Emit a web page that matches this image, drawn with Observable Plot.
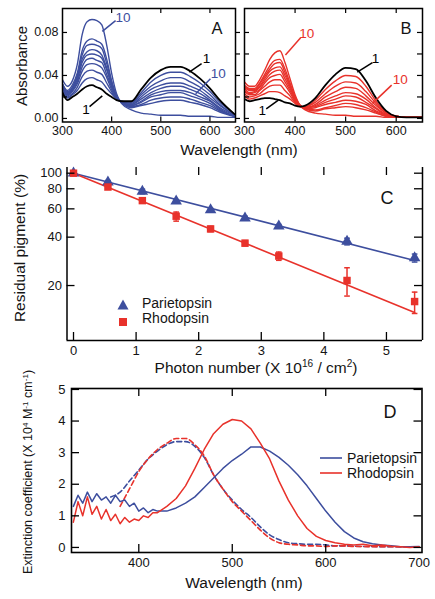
<!DOCTYPE html>
<html><head><meta charset="utf-8">
<script src="https://cdn.jsdelivr.net/npm/d3@7"></script>
<script src="https://cdn.jsdelivr.net/npm/@observablehq/plot@0.6"></script>
<style>
body{margin:0;background:#fff;}
#fig{position:relative;width:435px;height:599px;overflow:hidden;background:#fff;font-family:"Liberation Sans",Arial,sans-serif;color:#141414;}
.panel{position:absolute;left:0;}
.panel svg{background:transparent;overflow:visible;}
.t{position:absolute;white-space:nowrap;line-height:1;}
.rot{transform:translate(-50%,-50%) rotate(-90deg);}
.ctr{transform:translate(-50%,-50%);}
sup{font-size:0.65em;vertical-align:baseline;position:relative;top:-0.55em;line-height:0;}
</style></head>
<body>
<div id="fig">
  <div class="panel" id="pA" style="top:0"></div>
  <div class="panel" id="pB" style="top:0"></div>
  <div class="panel" id="pC" style="top:155px"></div>
  <div class="panel" id="pD" style="top:375px"></div>

  <div class="t rot" style="left:21px;top:66px;font-size:15px;">Absorbance</div>
  <div class="t ctr" style="left:239px;top:150px;font-size:15.5px;">Wavelength (nm)</div>
  <div class="t ctr" style="left:217px;top:28px;font-size:16.5px;">A</div>
  <div class="t ctr" style="left:406px;top:28px;font-size:16.5px;">B</div>

  <div class="t rot" style="left:20px;top:248px;font-size:15.5px;">Residual pigment (%)</div>
  <div class="t ctr" style="left:256px;top:368px;font-size:15.5px;">Photon number (X 10<sup>16</sup> / cm<sup>2</sup>)</div>
  <div class="t ctr" style="left:387px;top:198px;font-size:18px;">C</div>
  <div class="t" style="left:117px;top:297px;"><svg width="12" height="11"><polygon points="6,0.5 11.5,10.5 0.5,10.5" fill="#3d4e9e"/></svg></div>
  <div class="t" style="left:142px;top:296px;font-size:14px;">Parietopsin</div>
  <div class="t" style="left:119px;top:314px;"><svg width="9" height="9"><rect x="0" y="0" width="8" height="8" fill="#e8322b"/></svg></div>
  <div class="t" style="left:142px;top:311px;font-size:14px;">Rhodopsin</div>

  <div class="t rot" style="left:28px;top:472px;font-size:12.5px;">Extinction coefficient (X 10<sup>4</sup> M<sup>-1</sup> cm<sup>-1</sup>)</div>
  <div class="t ctr" style="left:244px;top:583px;font-size:15.5px;">Wavelength (nm)</div>
  <div class="t ctr" style="left:390px;top:412px;font-size:18px;">D</div>
  <div class="t" style="left:320px;top:451px;"><svg width="23" height="12"><line x1="0" y1="6" x2="22" y2="6" stroke="#3d4e9e" stroke-width="1.6"/></svg></div>
  <div class="t" style="left:347px;top:450.5px;font-size:14px;">Parietopsin</div>
  <div class="t" style="left:320px;top:466px;"><svg width="23" height="12"><line x1="0" y1="6" x2="22" y2="6" stroke="#e8322b" stroke-width="1.6"/></svg></div>
  <div class="t" style="left:347px;top:465.5px;font-size:14px;">Rhodopsin</div>
</div>
<script>
// ---------- Panels A and B: absorbance spectra during irradiation ----------
const wlAB = [300,310,320,330,340,350,360,370,380,390,400,410,420,440,460,480,500,520,540,560,580,600,620,650];
const parietopsinSpectra = [
  [0.024,0.017,0.020,0.023,0.027,0.030,0.031,0.029,0.027,0.023,0.020,0.017,0.016,0.016,0.027,0.038,0.045,0.048,0.048,0.044,0.037,0.028,0.017,0.004],
  [0.025,0.019,0.022,0.026,0.033,0.037,0.038,0.036,0.034,0.028,0.023,0.018,0.016,0.015,0.024,0.034,0.040,0.043,0.043,0.039,0.033,0.025,0.015,0.004],
  [0.027,0.020,0.023,0.029,0.039,0.044,0.045,0.043,0.041,0.033,0.025,0.018,0.016,0.014,0.022,0.030,0.035,0.038,0.038,0.034,0.029,0.022,0.013,0.003],
  [0.028,0.021,0.025,0.032,0.044,0.050,0.051,0.050,0.047,0.038,0.027,0.019,0.015,0.013,0.020,0.027,0.031,0.033,0.033,0.030,0.026,0.019,0.012,0.003],
  [0.029,0.022,0.026,0.034,0.048,0.055,0.056,0.054,0.052,0.041,0.029,0.020,0.015,0.013,0.018,0.024,0.028,0.030,0.030,0.027,0.023,0.017,0.010,0.003],
  [0.030,0.023,0.027,0.036,0.052,0.059,0.060,0.059,0.056,0.045,0.031,0.020,0.015,0.012,0.016,0.022,0.025,0.026,0.026,0.024,0.020,0.016,0.009,0.002],
  [0.031,0.024,0.028,0.038,0.055,0.062,0.064,0.063,0.059,0.047,0.032,0.020,0.015,0.012,0.015,0.020,0.022,0.024,0.024,0.021,0.018,0.014,0.008,0.002],
  [0.032,0.025,0.029,0.040,0.059,0.068,0.069,0.068,0.065,0.051,0.034,0.021,0.015,0.011,0.013,0.017,0.019,0.020,0.020,0.018,0.015,0.012,0.007,0.002],
  [0.032,0.026,0.031,0.042,0.063,0.072,0.074,0.072,0.069,0.055,0.035,0.021,0.015,0.010,0.012,0.014,0.016,0.017,0.017,0.015,0.013,0.010,0.006,0.002],
  [0.036,0.030,0.035,0.050,0.078,0.090,0.092,0.091,0.087,0.068,0.042,0.023,0.014,0.008,0.005,0.004,0.003,0.003,0.003,0.002,0.002,0.002,0.001,0.001]
];
const rhodopsinSpectra = [
  [0.018,0.016,0.017,0.018,0.019,0.019,0.018,0.017,0.015,0.014,0.012,0.011,0.012,0.019,0.031,0.041,0.047,0.046,0.035,0.019,0.007,0.002,0.001,0.001],
  [0.021,0.018,0.019,0.021,0.023,0.025,0.025,0.024,0.021,0.018,0.014,0.011,0.011,0.017,0.027,0.035,0.040,0.039,0.030,0.016,0.006,0.002,0.001,0.001],
  [0.023,0.020,0.021,0.023,0.027,0.030,0.031,0.031,0.026,0.021,0.015,0.011,0.011,0.015,0.023,0.030,0.034,0.033,0.025,0.014,0.005,0.002,0.001,0.001],
  [0.025,0.022,0.022,0.026,0.030,0.034,0.036,0.036,0.031,0.024,0.016,0.011,0.010,0.013,0.020,0.025,0.029,0.028,0.021,0.012,0.005,0.002,0.001,0.001],
  [0.026,0.023,0.024,0.027,0.033,0.038,0.040,0.041,0.034,0.026,0.017,0.012,0.010,0.012,0.017,0.021,0.024,0.023,0.018,0.010,0.004,0.002,0.001,0.001],
  [0.028,0.024,0.025,0.029,0.035,0.041,0.044,0.045,0.037,0.028,0.018,0.012,0.010,0.011,0.015,0.018,0.021,0.020,0.015,0.009,0.003,0.001,0.001,0.001],
  [0.029,0.026,0.026,0.030,0.037,0.044,0.047,0.048,0.040,0.030,0.019,0.012,0.009,0.010,0.013,0.015,0.017,0.016,0.013,0.007,0.003,0.001,0.001,0.001],
  [0.030,0.027,0.027,0.032,0.039,0.046,0.051,0.052,0.043,0.031,0.020,0.012,0.009,0.008,0.010,0.012,0.014,0.013,0.010,0.006,0.002,0.001,0.001,0.001],
  [0.031,0.028,0.028,0.033,0.041,0.049,0.054,0.055,0.046,0.033,0.020,0.012,0.009,0.007,0.009,0.010,0.011,0.010,0.008,0.005,0.002,0.001,0.001,0.001],
  [0.034,0.030,0.030,0.036,0.045,0.055,0.061,0.063,0.052,0.037,0.022,0.012,0.008,0.005,0.004,0.003,0.003,0.002,0.002,0.002,0.001,0.001,0.001,0.001]
];
const abXTicks = [300,400,500,600];
const abYTicks = [0,0.02,0.04,0.06,0.08];
const abYLabels = [0,0.04,0.08];
const curveLabelsA = [
  {text:"10", x:423, y:0.094, color:"#3d4e9e"},
  {text:"1",  x:593, y:0.056, color:"black"},
  {text:"10", x:617, y:0.042, color:"#3d4e9e"},
  {text:"1",  x:348, y:0.008, color:"black"}
];
const leadersA = [
  {x1:381,y1:0.081,x2:408,y2:0.091,color:"#3d4e9e"},
  {x1:558,y1:0.043,x2:583,y2:0.051,color:"black"},
  {x1:571,y1:0.023,x2:601,y2:0.037,color:"#3d4e9e"},
  {x1:355,y1:0.011,x2:381,y2:0.021,color:"black"}
];
const curveLabelsB = [
  {text:"10", x:423, y:0.079, color:"#e8322b"},
  {text:"1",  x:559, y:0.056, color:"black"},
  {text:"10", x:608, y:0.036, color:"#e8322b"},
  {text:"1",  x:335, y:0.0074, color:"black"}
];
const leadersB = [
  {x1:381,y1:0.059,x2:411,y2:0.075,color:"#e8322b"},
  {x1:523,y1:0.043,x2:553,y2:0.052,color:"black"},
  {x1:553,y1:0.014,x2:591,y2:0.031,color:"#e8322b"},
  {x1:343,y1:0.009,x2:367,y2:0.017,color:"black"}
];

// ---------- Panel C: bleaching kinetics ----------
const photonDose = [0,0.55,1.1,1.64,2.19,2.74,3.28,4.37,5.45];
const parietopsinResidual = [100,88,77,67,59,52.5,46.8,37.6,29.7];
const parietopsinLow  = [99,86,74.5,65.5,57.5,51,45.5,35.8,28];
const parietopsinHigh = [101,90,79.5,68.5,60.5,54,48,39.4,31.4];
const rhodopsinResidual = [100,82,67.5,54,45,36.7,30.5,21.5,15.9];
const rhodopsinLow  = [99,80.5,66,50.3,43.3,35.3,28.7,17.2,13.4];
const rhodopsinHigh = [101,83.5,69,57.3,46.7,38.1,32.3,25.8,18.2];
const fitDose = [0,5.45];
const parietopsinFit = [100,28.6];
const rhodopsinFit = [100,13.6];
const cXTicks = [0,1,2,3,4,5];
const cYTicks = [20,40,60,80,100];

// ---------- Panel D: extinction spectra ----------
const dWl = [330,335,340,345,350,355,360,365,370,375,380,385,390,395,400,405,410,415,420,430,440,450,460,470,480,490,500,510,520,530,540,550,560,570,580,590,600,610,620,630,640,650,660,670,680,690,700];
const parietopsinDark = [1.3,1.65,1.4,1.75,1.45,1.7,1.5,1.6,1.4,1.65,1.45,1.5,1.3,1.4,1.15,1.25,1.1,1.2,1.15,1.15,1.25,1.4,1.6,1.9,2.2,2.5,2.75,2.95,3.18,3.18,3.05,2.85,2.6,2.3,1.95,1.55,1.15,0.8,0.5,0.3,0.18,0.12,0.08,0.05,0.02,0.02,0.03];
const rhodopsinDark = [0.8,1.45,1.0,1.6,1.05,1.3,0.9,1.2,0.85,1.05,0.75,0.95,0.8,0.9,0.85,1.0,0.95,1.1,1.1,1.3,1.55,1.95,2.5,3.1,3.6,3.9,4.05,4.0,3.75,3.3,2.8,2.1,1.5,1.0,0.6,0.35,0.22,0.15,0.1,0.08,0.1,0.05,0.08,0.04,0.02,0.0,0.02];
const dashWl = [370,380,390,400,410,420,430,440,450,460,470,480,490,500,510,520,530,540,550,560,570,580,590,600,610,620,630,640,650,660,670,680,690,700];
const parietopsinPhoto = [1.6,1.75,2.1,2.45,2.8,3.05,3.25,3.35,3.35,3.2,2.85,2.3,1.85,1.5,1.2,0.95,0.65,0.4,0.25,0.15,0.12,0.1,0.1,0.08,0.05,0.05,0.04,0.03,0.03,0.02,0.02,0.02,0.02,0.02];
const rhodopsinPhoto = [NaN,1.3,1.85,2.4,2.8,3.1,3.3,3.45,3.45,3.25,2.9,2.3,1.85,1.45,1.15,0.85,0.55,0.3,0.15,0.1,0.08,0.05,0.05,0.03,0.05,0.05,0.03,0.03,0.02,0.02,0.02,0.02,0.02,0.02];
const dXTicks = [400,500,600,700];
const dYTicks = [0,1,2,3,4,5];

// ---------- drawing ----------
const BLUE = "#3d4e9e", RED = "#e8322b";
const FONT = "'Liberation Sans', Arial, sans-serif";
const baseStyle = (fs) => ({fontFamily: FONT, fontSize: fs + "px", color: "#141414", background: "transparent", overflow: "visible"});

function spectraPlot(spectra, color, mL, mR, labels, leaders, showY, rightOut) {
  const width = 435, height = 140, mT = 8, mB = 18.5;
  const W = width - mL - mR, H = height - mT - mB;
  const rows = spectra.flatMap((c, i) => c.map((v, j) => ({wl: wlAB[j], a: v, k: i + 1})));
  const marks = [
    Plot.line(rows.filter(d => d.k !== 1), {x: "wl", y: "a", z: "k", stroke: color, strokeWidth: 1.4, curve: "monotone-x", clip: true}),
    Plot.line(rows.filter(d => d.k === 1), {x: "wl", y: "a", stroke: "black", strokeWidth: 1.8, curve: "monotone-x", clip: true}),
    Plot.link(leaders, {x1: "x1", y1: "y1", x2: "x2", y2: "y2", stroke: "color", strokeWidth: 1.5}),
    Plot.text(labels, {x: "x", y: "y", text: "text", fill: "color", fontSize: 13.5}),
    Plot.frame({stroke: "black", strokeWidth: 1.5}),
    Plot.tickX(abXTicks.slice(1), {x: d => d, insetTop: H - 5, stroke: "black", strokeWidth: 1.2}),
    Plot.tickX(abXTicks.slice(1), {x: d => d, insetBottom: H - 5, stroke: "black", strokeWidth: 1.2}),
    Plot.tickY(abYTicks, {y: d => d, insetRight: W - 5, stroke: "black", strokeWidth: 1.2}),
    rightOut
      ? Plot.tickY(abYTicks, {y: d => d, insetLeft: W, insetRight: -5, stroke: "black", strokeWidth: 1.2})
      : Plot.tickY(abYTicks, {y: d => d, insetLeft: W - 5, stroke: "black", strokeWidth: 1.2}),
    Plot.axisX({ticks: abXTicks, tickSize: 0, tickPadding: 4, tickFormat: d => String(d), label: null})
  ];
  if (showY) marks.push(Plot.axisY({ticks: abYLabels, tickSize: 0, tickPadding: 4, tickFormat: d3.format(".2f"), label: null}));
  return Plot.plot({
    width, height, marginLeft: mL, marginRight: mR, marginTop: mT, marginBottom: mB,
    x: {domain: [300, 652]},
    y: {domain: [-0.0033, 0.1023], axis: showY ? undefined : null},
    style: baseStyle(12.5),
    marks
  });
}

document.getElementById("pA").append(spectraPlot(parietopsinSpectra, BLUE, 62, 200, curveLabelsA, leadersA, true, true));
document.getElementById("pB").append(spectraPlot(rhodopsinSpectra, RED, 244, 13, curveLabelsB, leadersB, false, false));

// Panel C
(function () {
  const width = 435, height = 205, mL = 66.5, mR = 13, mT = 12, mB = 20;
  const W = width - mL - mR, H = height - mT - mB;
  const xDom = [-0.104, 5.576], yDom = [9.1, 108.5];
  const pa = photonDose.map((x, i) => ({x, y: parietopsinResidual[i], lo: parietopsinLow[i], hi: parietopsinHigh[i]}));
  const rh = photonDose.map((x, i) => ({x, y: rhodopsinResidual[i], lo: rhodopsinLow[i], hi: rhodopsinHigh[i]}));
  const paFit = fitDose.map((x, i) => ({x, y: parietopsinFit[i]}));
  const rhFit = fitDose.map((x, i) => ({x, y: rhodopsinFit[i]}));
  const cap = 0.045;
  const errMarks = (data, color) => [
    Plot.ruleX(data, {x: "x", y1: "lo", y2: "hi", stroke: color, strokeWidth: 1.5}),
    Plot.link(data, {x1: d => d.x - cap, x2: d => d.x + cap, y1: "lo", y2: "lo", stroke: color, strokeWidth: 1.5}),
    Plot.link(data, {x1: d => d.x - cap, x2: d => d.x + cap, y1: "hi", y2: "hi", stroke: color, strokeWidth: 1.5})
  ];
  const svg = Plot.plot({
    width, height, marginLeft: mL, marginRight: mR, marginTop: mT, marginBottom: mB,
    x: {domain: xDom},
    y: {type: "log", domain: yDom},
    style: baseStyle(13),
    marks: [
      Plot.line(paFit, {x: "x", y: "y", stroke: BLUE, strokeWidth: 1.6}),
      Plot.line(rhFit, {x: "x", y: "y", stroke: RED, strokeWidth: 1.6}),
      ...errMarks(pa, BLUE),
      ...errMarks(rh, RED),
      Plot.dot(pa, {x: "x", y: "y", symbol: "triangle", r: 4.3, fill: BLUE}),
      Plot.dot(rh, {x: "x", y: "y", symbol: "square", r: 4.2, fill: RED}),
      Plot.ruleX([xDom[0], xDom[1]], {stroke: "black", strokeWidth: 1.5}),
      Plot.ruleY([yDom[0]], {stroke: "black", strokeWidth: 1.5}),
      Plot.tickX(cXTicks, {x: d => d, insetTop: H - 8, stroke: "black", strokeWidth: 1.3}),
      Plot.tickX(cXTicks.slice(1), {x: d => d, insetBottom: H - 8, stroke: "black", strokeWidth: 1.3}),
      Plot.tickY(cYTicks, {y: d => d, insetRight: W - 8, stroke: "black", strokeWidth: 1.3}),
      Plot.tickY(cYTicks, {y: d => d, insetLeft: W - 8, stroke: "black", strokeWidth: 1.3}),
      Plot.axisX({ticks: cXTicks, tickSize: 0, tickPadding: 5, tickFormat: d => String(d), label: null}),
      Plot.axisY({ticks: cYTicks, tickSize: 0, tickPadding: 5, tickFormat: d => String(d), label: null})
    ]
  });
  document.getElementById("pC").append(svg);
})();

// Panel D
(function () {
  const width = 435, height = 200, mL = 71, mR = 13.5, mT = 13, mB = 23;
  const W = width - mL - mR, H = height - mT - mB;
  const darkP = dWl.map((x, i) => ({x, y: parietopsinDark[i]}));
  const darkR = dWl.map((x, i) => ({x, y: rhodopsinDark[i]}));
  const photoP = dashWl.map((x, i) => ({x, y: parietopsinPhoto[i]}));
  const photoR = dashWl.map((x, i) => ({x, y: rhodopsinPhoto[i]}));
  const svg = Plot.plot({
    width, height, marginLeft: mL, marginRight: mR, marginTop: mT, marginBottom: mB,
    x: {domain: [328, 703]},
    y: {domain: [-0.16, 5.03]},
    style: baseStyle(13),
    marks: [
      Plot.line(photoP, {x: "x", y: "y", stroke: BLUE, strokeWidth: 1.6, strokeDasharray: "5,3", curve: "monotone-x", clip: true}),
      Plot.line(photoR, {x: "x", y: "y", stroke: RED, strokeWidth: 1.6, strokeDasharray: "5,3", curve: "monotone-x", clip: true}),
      Plot.line(darkP, {x: "x", y: "y", stroke: BLUE, strokeWidth: 1.5, curve: "linear", clip: true}),
      Plot.line(darkR, {x: "x", y: "y", stroke: RED, strokeWidth: 1.5, curve: "linear", clip: true}),
      Plot.frame({stroke: "black", strokeWidth: 1.6}),
      Plot.tickX(dXTicks.slice(0, 3), {x: d => d, insetTop: H - 8, stroke: "black", strokeWidth: 1.3}),
      Plot.tickX(dXTicks.slice(0, 3), {x: d => d, insetBottom: H - 8, stroke: "black", strokeWidth: 1.3}),
      Plot.tickY(dYTicks, {y: d => d, insetRight: W - 8, stroke: "black", strokeWidth: 1.3}),
      Plot.tickY(dYTicks, {y: d => d, insetLeft: W - 8, stroke: "black", strokeWidth: 1.3}),
      Plot.axisX({ticks: dXTicks, tickSize: 0, tickPadding: 5, tickFormat: d => String(d), label: null}),
      Plot.axisY({ticks: dYTicks, tickSize: 0, tickPadding: 6, tickFormat: d => String(d), label: null})
    ]
  });
  document.getElementById("pD").append(svg);
})();
</script>
</body></html>
